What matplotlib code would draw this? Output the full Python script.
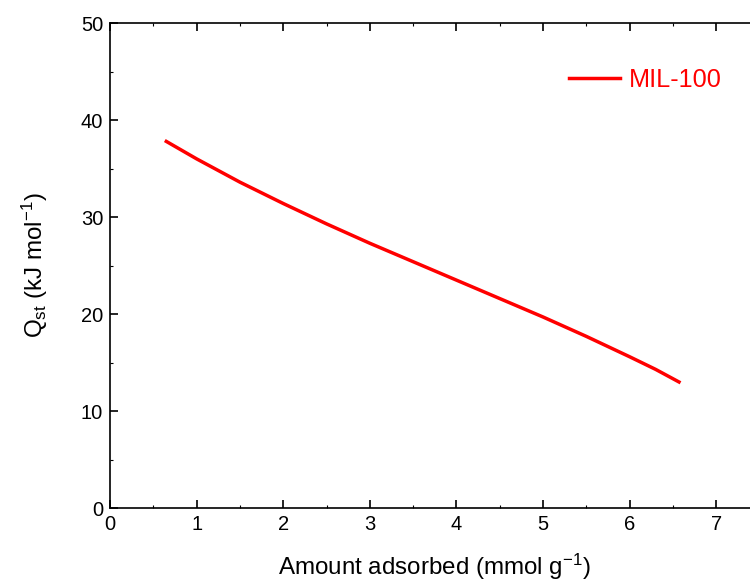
import matplotlib
matplotlib.use("Agg")
import matplotlib.pyplot as plt
from matplotlib.ticker import MultipleLocator

plt.rcParams['font.family'] = ['Liberation Sans', 'DejaVu Sans']
plt.rcParams['mathtext.fontset'] = 'custom'
plt.rcParams['mathtext.rm'] = 'Liberation Sans'
plt.rcParams['mathtext.it'] = 'Liberation Sans'

amount = [0.65, 1.0, 1.5, 2.0, 2.5, 3.0, 3.5, 4.0, 4.5, 5.0, 5.5, 6.0, 6.3, 6.57]
qst = [37.8, 36.0, 33.6, 31.4, 29.3, 27.3, 25.4, 23.5, 21.6, 19.7, 17.7, 15.6, 14.3, 13.0]
series_label = "MIL-100"

fig = plt.figure(figsize=(7.5, 5.84), dpi=100)
ax = fig.add_axes([0.1467, 0.130, 0.866, 0.8305])
ax.plot(amount, qst, color='#ff0000', lw=2.5, label=series_label)

ax.set_xlim(0, 7.5)
ax.set_ylim(0, 50)
ax.xaxis.set_major_locator(MultipleLocator(1))
ax.xaxis.set_minor_locator(MultipleLocator(0.5))
ax.yaxis.set_major_locator(MultipleLocator(10))
ax.yaxis.set_minor_locator(MultipleLocator(5))
ax.tick_params(which='both', direction='in', top=True, right=False, labelsize=14.5, width=1.2)
ax.tick_params(which='major', length=6, pad=5)
ax.tick_params(which='minor', length=2, width=0.8)
for s in ax.spines.values():
    s.set_linewidth(1.2)

ax.set_xlabel('Amount adsorbed (mmol g$^{-1}$)', fontsize=17.4, labelpad=13)
ax.set_ylabel('Q$_{\\mathrm{st}}$ (kJ mol$^{-1}$)', fontsize=17.4, labelpad=22)

leg = ax.legend(loc='upper left', bbox_to_anchor=(0.672, 0.955), frameon=False,
                fontsize=18.2, handlelength=2.0, handletextpad=0.35)
for t in leg.get_texts():
    t.set_color('#ff0000')

fig.savefig('out.png', dpi=100)
